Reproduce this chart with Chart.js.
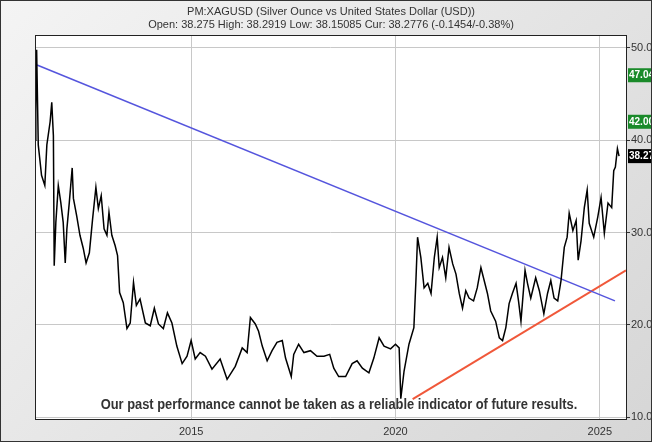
<!DOCTYPE html>
<html><head><meta charset="utf-8">
<script src="https://cdn.jsdelivr.net/npm/chart.js@4"></script>
<style>
html,body{margin:0;padding:0;background:#fff}
#wrap{width:652px;height:442px;position:relative;box-sizing:border-box;border:1px solid #333;background:linear-gradient(135deg,#f4f4f4,#d6d6d6)}
canvas{position:absolute;left:0;top:0}
</style></head><body>
<div id="wrap"><canvas id="c" width="650" height="440"></canvas></div>
<script>
const years = [2011.18,2011.2,2011.22,2011.26,2011.34,2011.42,2011.47,2011.55,2011.59,2011.63,2011.65,2011.69,2011.75,2011.81,2011.87,2011.92,2011.96,2012.02,2012.09,2012.12,2012.2,2012.28,2012.36,2012.43,2012.51,2012.59,2012.67,2012.73,2012.8,2012.87,2012.94,2012.99,2013.06,2013.14,2013.2,2013.25,2013.34,2013.43,2013.51,2013.59,2013.66,2013.75,2013.88,2014.0,2014.1,2014.2,2014.32,2014.42,2014.53,2014.65,2014.78,2014.9,2015.0,2015.1,2015.22,2015.35,2015.51,2015.71,2015.88,2016.08,2016.25,2016.37,2016.45,2016.57,2016.65,2016.74,2016.86,2016.98,2017.1,2017.23,2017.31,2017.45,2017.51,2017.63,2017.76,2017.92,2018.08,2018.25,2018.39,2018.49,2018.61,2018.78,2018.94,2019.06,2019.19,2019.35,2019.47,2019.6,2019.72,2019.88,2020.0,2020.09,2020.13,2020.21,2020.33,2020.45,2020.5,2020.54,2020.62,2020.7,2020.79,2020.87,2020.95,2021.02,2021.07,2021.15,2021.23,2021.31,2021.4,2021.48,2021.56,2021.64,2021.72,2021.8,2021.91,2022.0,2022.09,2022.17,2022.25,2022.33,2022.45,2022.54,2022.62,2022.7,2022.78,2022.86,2022.95,2023.01,2023.07,2023.17,2023.23,2023.31,2023.43,2023.52,2023.63,2023.72,2023.8,2023.88,2023.97,2024.05,2024.13,2024.2,2024.25,2024.34,2024.42,2024.47,2024.54,2024.62,2024.69,2024.74,2024.85,2024.95,2025.03,2025.11,2025.2,2025.29,2025.34,2025.38,2025.43,2025.47];
const prices = [40,43,49.8,39.5,36.2,35.1,39.5,42,44.1,40.5,26.4,31.1,35.1,33.3,31.1,26.7,30.4,33.3,37,33.7,31.8,29.7,28.3,26.7,27.8,31.5,34.9,32.6,34,30.4,29.7,32.2,29.7,28.6,27.5,23.5,22.4,19.6,20.2,24.6,22.1,22.8,20.2,19.9,21.8,20.1,19.6,21.3,20.2,17.7,15.8,16.6,18.3,16.3,17,16.6,15.2,16.3,14.1,15.5,17.5,17,20.8,20.1,19.3,17.7,16.1,17.2,18.1,18.3,16.4,14.4,16.8,17.9,17,17.2,16.6,16.6,16.8,15.3,14.4,14.4,15.8,16.1,15.3,14.8,16.4,18.6,17.7,17.4,17.9,17.5,12,15,17.9,19.7,24.8,29.5,27.3,24,24.5,23.4,27.3,29.5,26.2,27.3,25.1,28.4,26.6,25.5,23.4,21.8,23.7,22.9,22.6,24,26.2,24.8,23.4,21.5,20.4,18.6,18.3,19.7,22.3,23.4,24.5,22.6,20.4,25.9,24.5,22.9,25.1,23.7,21.2,23.4,24.8,22.9,22.6,24.8,28.4,29.5,32.1,30.2,31.3,27,29.1,32.7,34.6,31,29.5,31.7,33.8,29.9,33.2,32.7,36.7,37.1,39.1,38.28];
const blueTrend = [[2011.23,48.15],[2025.37,22.6]];
const redTrend = [[2020.42,11.96],[2025.64,25.9]];
const yTicks = [10,20,30,40,50];
const xTicks = [2015,2020,2025];
const markers = [[47.04,'47.04','#1a8a2a'],[42.00,'42.00','#1a8a2a'],[38.2776,'38.27','#000']];
const title1 = 'PM:XAGUSD (Silver Ounce vs United States Dollar (USD))';
const title2 = 'Open: 38.275 High: 38.2919 Low: 38.15085 Cur: 38.2776 (-0.1454/-0.38%)';
const disclaimer = 'Our past performance cannot be taken as a reliable indicator of future results.';

const priceData = years.map((y,i)=>({x:y,y:prices[i]}));
const toXY = a=>a.map(p=>({x:p[0],y:p[1]}));

const deco = {
  id:'deco',
  beforeDraw(ch){
    const {ctx,chartArea:a}=ch;
    ctx.save();ctx.fillStyle='#fff';ctx.fillRect(a.left,a.top,a.right-a.left,a.bottom-a.top);ctx.restore();
  },
  afterDraw(ch){
    const {ctx,chartArea:a,scales}=ch;
    ctx.save();
    ctx.strokeStyle='#222';ctx.lineWidth=1;
    ctx.strokeRect(a.left+0.5,a.top+0.5,a.right-a.left,a.bottom-a.top);
    ctx.fillStyle='#333';ctx.font='11px Arial, "Liberation Sans"';ctx.textAlign='center';ctx.textBaseline='middle';
    ctx.fillText(title1,330,11);ctx.fillText(title2,330,24);
    ctx.save();
    ctx.translate(338,404);ctx.scale(0.92,1);
    ctx.font='bold 14px "Liberation Sans Narrow", "Liberation Sans", Arial';
    ctx.fillStyle='#333';
    ctx.fillText(disclaimer,0,0);
    ctx.restore();
    ctx.font='bold 10px Arial, "Liberation Sans"';ctx.textAlign='left';
    markers.forEach(m=>{
      const y=scales.y.getPixelForValue(m[0]);
      ctx.fillStyle=m[2];ctx.fillRect(a.right+2,y-7,28,14);
      ctx.fillStyle='#fff';ctx.fillText(m[1],a.right+3,y);
    });
    ctx.restore();
  }
};

new Chart(document.getElementById('c'),{
  type:'line',
  data:{datasets:[
    {data:priceData,borderColor:'#000',borderWidth:1.5,pointRadius:0,tension:0},
    {data:toXY(blueTrend),borderColor:'#5555dd',borderWidth:1.5,pointRadius:0},
    {data:toXY(redTrend),borderColor:'#f0583a',borderWidth:2,pointRadius:0}
  ]},
  options:{
    responsive:false,animation:false,
    layout:{padding:{left:34,top:34,right:0,bottom:0}},
    plugins:{legend:{display:false},tooltip:{enabled:false}},
    scales:{
      x:{type:'linear',min:2011.18,max:2025.64,
        afterBuildTicks:s=>{s.ticks=xTicks.map(v=>({value:v}));},
        afterFit:s=>{s.height=22;},
        grid:{color:'#c8c8c8',drawTicks:false},border:{display:false},
        ticks:{color:'#333',font:{size:11,family:'Arial'},padding:6,callback:v=>String(v),maxRotation:0}},
      y:{position:'right',min:9.8,max:51.4,
        afterBuildTicks:s=>{s.ticks=yTicks.map(v=>({value:v}));},
        afterFit:s=>{s.width=25;},
        grid:{color:'#c8c8c8',tickLength:4,tickColor:'#333'},border:{display:false},
        ticks:{color:'#333',font:{size:11,family:'Arial'},padding:1,callback:v=>v.toFixed(2)}}
    }
  },
  plugins:[deco]
});
</script></body></html>
